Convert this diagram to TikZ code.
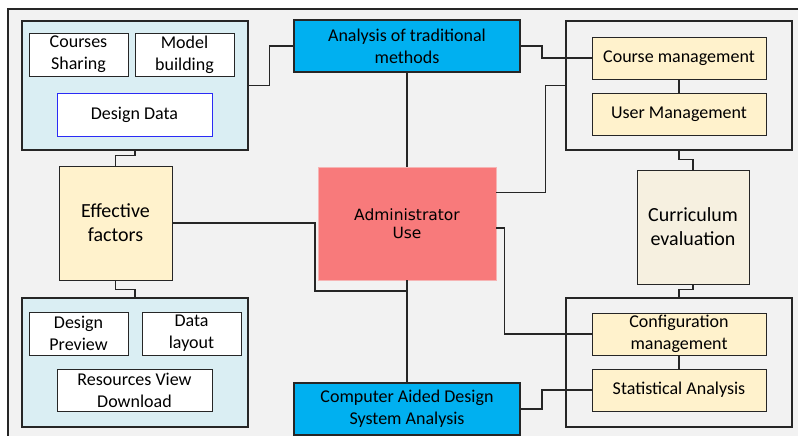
\documentclass[tikz,border=0pt]{standalone}
\usepackage{fontspec}
\setmainfont{Carlito}
\newfontfamily\adminfont{DejaVu Sans}
\usetikzlibrary{calc}
\definecolor{bggrey}{HTML}{F2F2F2}
\definecolor{groupblue}{HTML}{DAEEF3}
\definecolor{cyanbox}{HTML}{00B0F0}
\definecolor{paleyellow}{HTML}{FFF2CC}
\definecolor{beige}{HTML}{F6F0E0}
\definecolor{salmon}{HTML}{F87A7B}
\definecolor{salmonedge}{HTML}{F6B4B4}
\definecolor{ddblue}{HTML}{2B2BF5}
\definecolor{edge}{HTML}{262626}
\tikzset{
  x=1pt, y=-1pt,
  base/.style={align=center, inner sep=0pt, font=\fontsize{18}{22}\selectfont, text=black},
  group/.style={base, draw=edge, line width=1.1pt, minimum width=226pt, minimum height=129pt},
  bluegroup/.style={group, fill=groupblue},
  greygroup/.style={group, fill=bggrey},
  whitebox/.style={base, draw=edge, line width=0.9pt, fill=white, minimum width=99pt, minimum height=43pt},
  widebox/.style={whitebox, minimum width=155pt},
  yellowbox/.style={base, draw=edge, line width=0.9pt, fill=paleyellow, minimum width=174pt, minimum height=42pt},
  tallbox/.style={base, draw=edge, line width=0.9pt, minimum width=113pt, minimum height=114pt, font=\fontsize{20}{24}\selectfont},
  cyanstep/.style={base, draw=edge, line width=1.8pt, fill=cyanbox, minimum width=226pt, minimum height=52pt},
  adminbox/.style={base, draw=salmonedge, line width=0.8pt, fill=salmon, minimum width=178pt, minimum height=113pt, font=\adminfont\fontsize{15.5}{17.5}\selectfont},
  link/.style={draw=edge, line width=1.2pt}
}
\begin{document}
\begin{tikzpicture}
\useasboundingbox (0,0) rectangle (798,436);
\fill[white] (0,0) rectangle (798,436);
% outer panel
\fill[bggrey] (8,9) rectangle (798,436);
\draw[edge, line width=1.3pt] (8,436) -- (8,9) -- (798,9);

% side groups
\node[bluegroup] (tlg) at (135,85.5) {};
\node[bluegroup] (blg) at (135,362.5) {};
\node[greygroup] (trg) at (679,85.5) {};
\node[greygroup] (brg) at (679,362.5) {};

% central column
\node[cyanstep] (atm) at (407,46) {Analysis of traditional\\methods};
\node[adminbox] (adm) at (407,223.5) {Administrator\\Use};
\node[cyanstep] (cad) at (407,409) {Computer Aided Design\\System Analysis};

% left column
\node[whitebox] (cs) at (78.5,54.5) {Courses\\Sharing};
\node[whitebox] (mb) at (184.5,54.5) {Model\\building};
\node[widebox, draw=ddblue] (dd) at (134.5,114.5) {Design Data};
\node[tallbox, fill=paleyellow] (ef) at (115.5,223) {Effective\\factors};
\node[whitebox] (dp) at (78.5,333.5) {Design\\Preview};
\node[whitebox] (dl) at (191.5,333.5) {Data\\layout};
\node[widebox, minimum height=42pt] (rvd) at (134.5,390) {Resources View\\Download};

% right column
\node[yellowbox] (cm) at (679,58) {Course management};
\node[yellowbox] (um) at (679,114) {User Management};
\node[tallbox, fill=beige, minimum width=112pt] (ce) at (693,227) {Curriculum\\evaluation};
\node[yellowbox] (cfm) at (679,334) {Configuration\\management};
\node[yellowbox] (sa) at (679,390) {Statistical Analysis};

% connectors
\coordinate (j) at (407,291);
\draw[link] (tlg.east) -- ++(21,0) |- (atm.west);
\draw[link] (atm.east) -- ++(21,0) |- (cm.west);
\draw[link] (atm.south) -- (adm.north);
\draw[link] ($(adm.north east)+(0,26)$) -| ([xshift=-20pt]trg.west) -- (trg.west);
\draw[link] (tlg.south) -- ++(0,5) -| (ef.north);
\draw[link] (ef.south) -- ++(0,9) -| (blg.north);
\draw[link] (ef.east) -| ([xshift=-92pt]j) -- (j);
\draw[link] (adm.south) -- (cad.north);
\draw[link] ($(adm.east)+(0,4.5)$) -- ++(8,0) |- (cfm.west);
\draw[link] (cad.east) -- ++(21,0) |- (sa.west);
\draw[link] (cm.south) -- (um.north);
\draw[link] (trg.south) -- ++(0,9) -| (ce.north);
\draw[link] (ce.south) -- ++(0,5) -| (brg.north);
\draw[link] (cfm.south) -- (sa.north);
\end{tikzpicture}
\end{document}
